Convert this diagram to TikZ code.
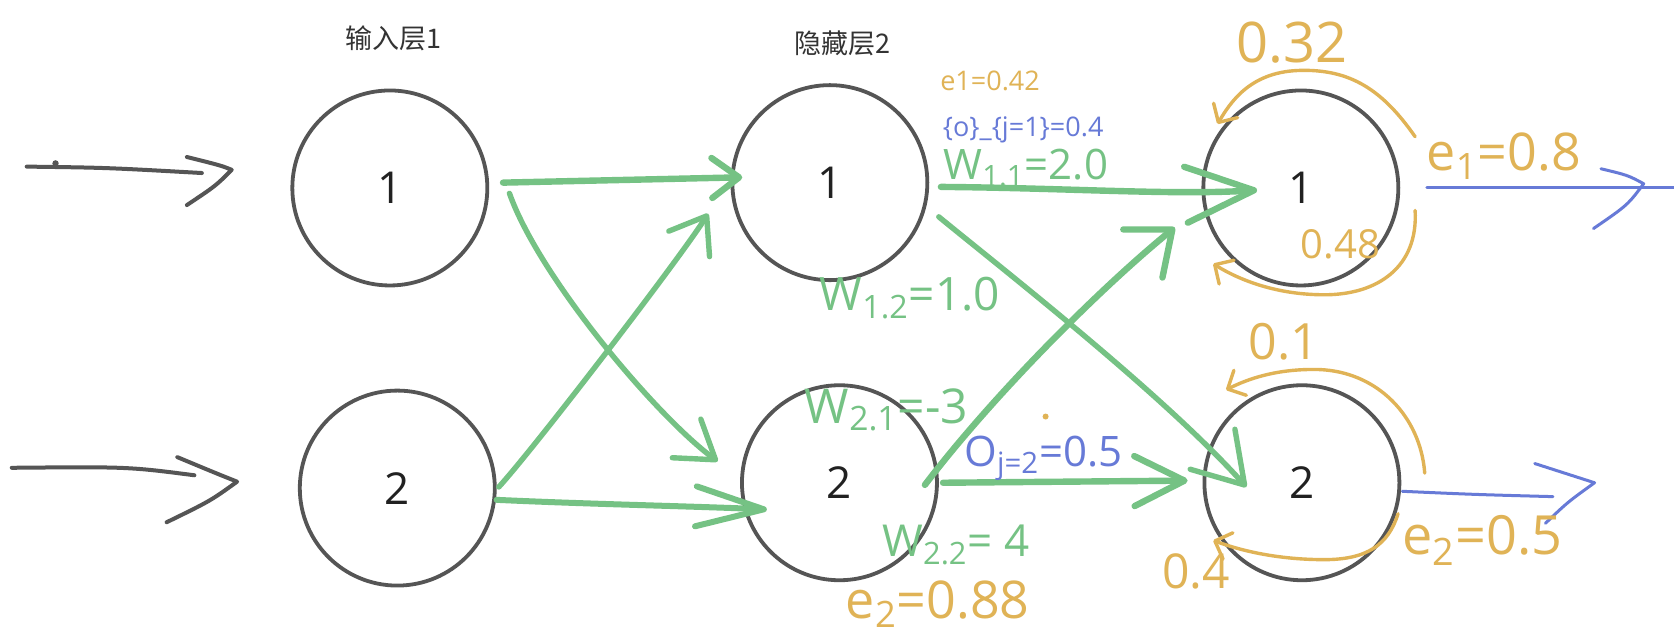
\documentclass[tikz,border=0pt]{standalone}
\usepackage{fontspec}
\setmainfont{Open Sans}
\newfontfamily\cjkfont{Noto Sans CJK SC}
\usetikzlibrary{arrows.meta,calc}
\definecolor{cgreen}{RGB}{117,194,132}
\definecolor{cgold}{RGB}{224,179,86}
\definecolor{cblue}{RGB}{103,122,215}
\definecolor{cgray}{RGB}{85,85,85}
\begin{document}
\begin{tikzpicture}[x=0.534pt,y=-0.534pt,
  neuron/.style={circle,draw=cgray,line width=1.9pt,inner sep=0pt,minimum size=97.5pt,font=\fontsize{22}{26}\selectfont,text=black!87},
  layertitle/.style={font=\cjkfont\fontsize{13.5}{16}\selectfont,text=black!80},
  typed/.style={font=\fontsize{13.5}{16}\selectfont,inner sep=0pt},
  hand/.style={font=\fontsize{#1}{#1}\selectfont,inner sep=0pt},
  gline/.style={draw=cgreen,line width=3pt,line cap=round,line join=round},
  goldline/.style={draw=cgold,line width=1.7pt,line cap=round,line join=round},
  blueline/.style={draw=cblue,line width=1.5pt,line cap=round,line join=round},
  grayline/.style={draw=cgray,line width=2pt,line cap=round,line join=round},
  goldtip/.style={-{Straight Barb[length=7pt,width=14pt,round]}}
]
\fill[white] (0,0) rectangle (1567.4,599.3);
\useasboundingbox (0,0) rectangle (1567.4,599.3);

% neurons
\node[neuron] (i1) at (365,176) {1};
\node[neuron] (i2) at (372,457) {2};
\node[neuron] (h1) at (777,171) {1};
\node[neuron] (h2) at (786,452) {2};
\node[neuron] (o1) at (1218,176) {1};
\node[neuron] (o2) at (1219,452) {2};

% layer titles
\node[layertitle] (t1) at (368,36) {输入层1};
\node[layertitle] (t2) at (789,41) {隐藏层2};

% input arrows
\coordinate (in1s) at (25,156);
\coordinate (in1e) at (189,162);
\coordinate (in1t) at (217,159);
\draw[grayline] (in1s) .. controls (100,157) .. (in1e);
\draw[grayline] ($(in1t)+(-42,-12)$) .. controls ($(in1t)+(-10,-4)$) .. (in1t) .. controls ($(in1t)+(-15,15)$) .. ($(in1t)+(-42,33)$);
\fill[cgray] (52,153) circle (1.6pt);
\coordinate (in2s) at (11,438);
\coordinate (in2e) at (182,445);
\coordinate (in2t) at (222,451);
\draw[grayline] (in2s) .. controls (120,437) .. (in2e);
\draw[grayline] ($(in2t)+(-56,-23)$) .. controls ($(in2t)+(-20,-8)$) .. (in2t) .. controls ($(in2t)+(-25,18)$) .. ($(in2t)+(-66,38)$);

% green connectors
\draw[gline,line width=3.2pt,-{Straight Barb[length=13.6pt,width=20pt,round]}]
  ($(i1)+(106,-5)$) -- ($(h1)+(-82,-5)$);
\draw[gline,line width=2.7pt,-{Straight Barb[length=18pt,width=24pt,round]}]
  ($(i1)+(112,5)$) .. controls (505,260) and (615,390) .. ($(h2)+(-114,-20)$);
\draw[gline,line width=2.7pt,-{Straight Barb[length=16.5pt,width=24pt,round]}]
  ($(i2)+(95,-1)$) .. controls (500,420) and (638,240) .. ($(h1)+(-114,29)$);
\draw[gline,line width=3pt,-{Straight Barb[length=34pt,width=20pt,round]}]
  ($(i2)+(93,11)$) .. controls (550,472) and (650,474) .. ($(h2)+(-68,25)$);
\draw[gline,line width=3.2pt,-{Straight Barb[length=34pt,width=28pt,round]}]
  ($(h1)+(104,4)$) .. controls (1000,176) and (1100,183) .. ($(o1)+(-41,2)$);
\draw[gline,line width=2.7pt,-{Straight Barb[length=24pt,width=30pt,round]}]
  ($(h1)+(102,32)$) .. controls (940,253) and (1090,370) .. ($(o2)+(-52,4)$);
\draw[gline,line width=3.2pt,-{Straight Barb[length=19pt,width=31pt,round]}]
  ($(h2)+(80,2)$) .. controls (930,370) and (1030,270) .. ($(o1)+(-118,37)$);
\draw[gline,line width=3.2pt,-{Straight Barb[length=25pt,width=25pt,round]}]
  ($(h2)+(97,0)$) -- ($(o2)+(-107,-2)$);

% gold loops
\draw[goldline,goldtip] ($(o1)+(107,-48)$) .. controls (1295,85) and (1265,64) .. (1215,66)
  .. controls (1170,68) and (1152,96) .. ($(o1)+(-78,-60)$);
\draw[goldline,goldtip] ($(o1)+(107,21)$) .. controls (1328,250) and (1290,276) .. (1240,276)
  .. controls (1195,276) and (1160,262) .. ($(o1)+(-82,71)$);
\draw[goldline,goldtip] ($(o2)+(115,-9)$) .. controls (1330,390) and (1290,348) .. (1235,346)
  .. controls (1195,345) and (1168,355) .. ($(o2)+(-71,-87)$);
\draw[goldline,goldtip] ($(o2)+(90,29)$) .. controls (1300,510) and (1280,524) .. (1240,524)
  .. controls (1195,524) and (1160,515) .. ($(o2)+(-83,54)$);

% blue outputs
\coordinate (bo1) at (1567,176);
\coordinate (bt1) at (1539,172);
\draw[blueline] ($(o1)+(118,0)$) -- (bo1);
\draw[blueline] ($(bt1)+(-40,-14)$) .. controls ($(bt1)+(-15,-8)$) .. (bt1) .. controls ($(bt1)+(-15,20)$) .. ($(bt1)+(-47,42)$);
\coordinate (bo2) at (1454,465);
\coordinate (bt2) at (1493,452);
\draw[blueline] ($(o2)+(94,8)$) .. controls (1380,463) .. (bo2);
\draw[blueline] ($(bt2)+(-56,-18)$) -- (bt2) .. controls ($(bt2)+(-25,18)$) .. ($(bt2)+(-46,38)$);

% labels
\node[typed,text=cgold] (le1) at (927,76) {e1=0.42};
\node[typed,text=cblue] (lo1) at (958,122) {\{o\}\_\{j=1\}=0.4};
\node[hand=21,text=cgreen,anchor=base west] (lw11) at (883,168) {W\textsubscript{1.1}=2.0};
\node[hand=23,text=cgreen] (lw12) at (852,279) {W\textsubscript{1.2}=1.0};
\node[hand=24,text=cgreen] (lw21) at (830,384) {W\textsubscript{2.1}=-3};
\node[hand=22,text=cgreen] (lw22) at (895,510) {W\textsubscript{2.2}= 4};
\node[hand=26,text=cgold] (le2a) at (878,566) {e\textsubscript{2}=0.88};
\node[hand=21,text=cblue] (loj2) at (977,429) {O\textsubscript{j=2}=0.5};
\fill[cgold] (979,390) circle (1.5pt);
\node[hand=28,text=cgold] (l032) at (1210,40) {0.32};
\node[hand=26,text=cgold] (le1b) at (1408,146) {e\textsubscript{1}=0.8};
\node[hand=20,text=cgold] (l048) at (1255,229) {0.48};
\node[hand=25,text=cgold] (l01) at (1202,320) {0.1};
\node[hand=24,text=cgold] (l04) at (1120,535) {0.4};
\node[hand=27,text=cgold] (le2b) at (1388,506) {e\textsubscript{2}=0.5};
\end{tikzpicture}
\end{document}
